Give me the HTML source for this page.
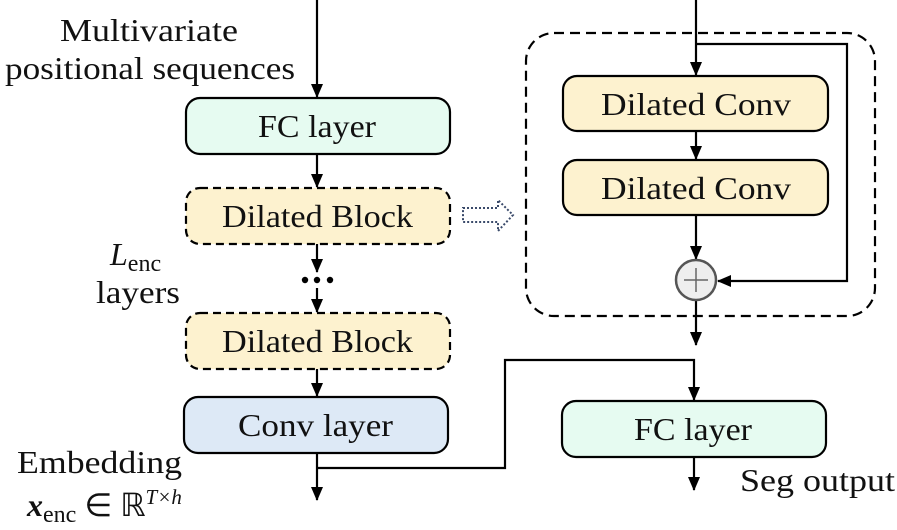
<!DOCTYPE html>
<html><head><meta charset="utf-8"><style>
html,body{margin:0;padding:0;background:#fff;}
svg{display:block;}
text{font-family:"Liberation Serif",serif;fill:#111;}
</style></head><body>
<svg width="897" height="530" viewBox="0 0 897 530" xmlns="http://www.w3.org/2000/svg">
<defs>
<marker id="ah" markerWidth="14" markerHeight="14" refX="13" refY="6" orient="auto" markerUnits="userSpaceOnUse" viewBox="0 0 14 12">
<path d="M0,0 L14,6 L0,12 z" fill="#000"/>
</marker>
</defs>
<g stroke="#000" stroke-width="2.2" fill="none">
<line x1="317" y1="0" x2="317" y2="97" marker-end="url(#ah)"/>
<line x1="317" y1="154" x2="317" y2="187" marker-end="url(#ah)"/>
<line x1="317" y1="244" x2="317" y2="272" marker-end="url(#ah)"/>
<line x1="317" y1="288" x2="317" y2="312" marker-end="url(#ah)"/>
<line x1="317" y1="369" x2="317" y2="396" marker-end="url(#ah)"/>
<line x1="317" y1="453" x2="317" y2="500" marker-end="url(#ah)"/>
<polyline points="317,468 505,468 505,360 694,360 694,400" marker-end="url(#ah)"/>
<line x1="694" y1="457" x2="694" y2="490" marker-end="url(#ah)"/>
<line x1="696" y1="0" x2="696" y2="75" marker-end="url(#ah)"/>
<line x1="696" y1="131" x2="696" y2="159" marker-end="url(#ah)"/>
<line x1="696" y1="215" x2="696" y2="259" marker-end="url(#ah)"/>
<polyline points="696,44 847,44 847,281 718,281" marker-end="url(#ah)"/>
<line x1="696" y1="301" x2="696" y2="345" marker-end="url(#ah)"/>
</g>
<rect x="526" y="33" width="349" height="283" rx="28" fill="none" stroke="#000" stroke-width="2.2" stroke-dasharray="10,6"/>
<rect x="186" y="98" width="264" height="56" rx="14" fill="#e6fbf1" stroke="#000" stroke-width="2.2"/>
<text x="258" y="137" font-size="32" textLength="118" lengthAdjust="spacingAndGlyphs">FC layer</text>
<rect x="186" y="188" width="264" height="56" rx="14" fill="#fdf2cf" stroke="#000" stroke-width="2.2" stroke-dasharray="8,5"/>
<text x="222" y="227" font-size="32" textLength="191" lengthAdjust="spacingAndGlyphs">Dilated Block</text>
<circle cx="305" cy="280" r="3.2" fill="#000"/><circle cx="317" cy="280" r="3.2" fill="#000"/><circle cx="330" cy="280" r="3.2" fill="#000"/>
<rect x="186" y="313" width="264" height="56" rx="14" fill="#fdf2cf" stroke="#000" stroke-width="2.2" stroke-dasharray="8,5"/>
<text x="222" y="352" font-size="32" textLength="191" lengthAdjust="spacingAndGlyphs">Dilated Block</text>
<rect x="184" y="397" width="264" height="56" rx="14" fill="#dde9f6" stroke="#000" stroke-width="2.2"/>
<text x="238" y="436" font-size="32" textLength="155" lengthAdjust="spacingAndGlyphs">Conv layer</text>
<rect x="563" y="76" width="265" height="55" rx="14" fill="#fdf2cf" stroke="#000" stroke-width="2.2"/>
<text x="601" y="115" font-size="32" textLength="190" lengthAdjust="spacingAndGlyphs">Dilated Conv</text>
<rect x="563" y="160" width="265" height="55" rx="14" fill="#fdf2cf" stroke="#000" stroke-width="2.2"/>
<text x="601" y="199" font-size="32" textLength="190" lengthAdjust="spacingAndGlyphs">Dilated Conv</text>
<circle cx="696" cy="280" r="20" fill="#eee" stroke="#555" stroke-width="2.5"/>
<line x1="684" y1="280" x2="708" y2="280" stroke="#666" stroke-width="1.5"/>
<line x1="696" y1="268" x2="696" y2="292" stroke="#666" stroke-width="1.5"/>
<rect x="562" y="401" width="264" height="56" rx="14" fill="#e6fbf1" stroke="#000" stroke-width="2.2"/>
<text x="634" y="440" font-size="32" textLength="118" lengthAdjust="spacingAndGlyphs">FC layer</text>
<path d="M463,208 L498,208 L498,200 L513,215 L498,231 L498,222 L463,222 Z" fill="none" stroke="#3a4a6a" stroke-width="2" stroke-dasharray="2,2"/>
<text x="60" y="41" font-size="32" textLength="178" lengthAdjust="spacingAndGlyphs">Multivariate</text>
<text x="5" y="79" font-size="32" textLength="290" lengthAdjust="spacingAndGlyphs">positional sequences</text>
<text x="110" y="265" font-size="32" font-style="italic">L<tspan font-size="24" font-style="normal" dy="6">enc</tspan></text>
<text x="96" y="303" font-size="32" textLength="84" lengthAdjust="spacingAndGlyphs">layers</text>
<text x="17" y="473" font-size="32" textLength="165" lengthAdjust="spacingAndGlyphs">Embedding</text>
<text x="27" y="516" font-size="32" font-style="italic" font-weight="bold">x<tspan font-size="24" font-style="normal" font-weight="normal" dy="6">enc</tspan><tspan dy="-6" font-style="normal" font-weight="normal"> ∈ ℝ</tspan><tspan font-size="21" dy="-12" font-weight="normal">T×h</tspan></text>
<text x="740" y="491" font-size="32" textLength="155" lengthAdjust="spacingAndGlyphs">Seg output</text>
</svg>
</body></html>
